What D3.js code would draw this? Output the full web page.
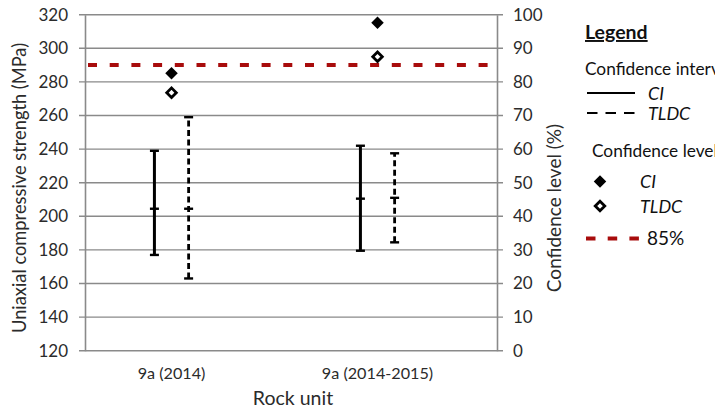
<!DOCTYPE html>
<html>
<head>
<meta charset="utf-8">
<script src="https://cdn.jsdelivr.net/npm/d3@7"></script>
<style>
  html, body { margin: 0; padding: 0; background: #fff; }
  svg { display: block; font-family: Lato, "Open Sans", sans-serif; }
</style>
</head>
<body>
<svg id="chart" width="715" height="411"></svg>
<script>
// values
const categories = ['9a (2014)', '9a (2014-2015)'];
const ciLow = [177, 179.5];
const ciMid = [204.5, 210.5];
const ciHigh = [239, 242];
const tldcLow = [163, 184.5];
const tldcMid = [204.5, 211];
const tldcHigh = [259, 237.5];
const ciLevel = [82.6, 97.6];
const tldcLevel = [76.8, 87.5];
const threshold = 85;
const leftTicks = [120, 140, 160, 180, 200, 220, 240, 260, 280, 300, 320];
const rightTicks = [0, 10, 20, 30, 40, 50, 60, 70, 80, 90, 100];

const svg = d3.select('#chart');
const margin = { top: 14.7, left: 85, right: 497, bottom: 350.7 };
const red = '#a80c0c';
const grid = '#8a8a8a';
const ink = '#2b2b2b';

const x = d3.scaleLinear().domain([-0.42, 1.58]).range([margin.left, margin.right]);
const yL = d3.scaleLinear().domain([120, 320]).range([margin.bottom, margin.top]);
const yR = d3.scaleLinear().domain([0, 100]).range([margin.bottom, margin.top]);
const off = 0.083;

// gridlines
svg.append('g')
	.selectAll('line')
	.data(leftTicks)
	.join('line')
	.attr('x1', margin.left - 6)
	.attr('x2', margin.right + 6)
	.attr('y1', d => yL(d))
	.attr('y2', d => yL(d))
	.attr('stroke', grid)
	.attr('stroke-width', 1.4);

// axes
const axL = d3.axisLeft(yL).tickValues(leftTicks).tickSize(0).tickPadding(17);
const axR = d3.axisRight(yR).tickValues(rightTicks).tickSize(0).tickPadding(16);
[[axL, margin.left], [axR, margin.right]].forEach(([ax, px]) => {
	const g = svg.append('g').attr('transform', `translate(${px},0)`).call(ax);
	g.select('.domain').attr('stroke', grid).attr('stroke-width', 1.6);
	g.selectAll('text').attr('font-size', 17).attr('fill', ink).attr('font-family', 'Lato');
});

// category labels
svg.append('g')
	.selectAll('text')
	.data(categories)
	.join('text')
	.attr('x', (d, i) => x(i))
	.attr('y', 379)
	.attr('text-anchor', 'middle')
	.attr('font-size', 16.2)
	.attr('fill', ink)
	.text(d => d);

// threshold line
svg.append('line')
	.attr('x1', margin.left + 3)
	.attr('x2', margin.right - 4)
	.attr('y1', yR(threshold))
	.attr('y2', yR(threshold))
	.attr('stroke', red)
	.attr('stroke-width', 4)
	.attr('stroke-dasharray', '9 12.7');

// error bars
function errorBars(lo, mid, hi, dx, dash) {
	const g = svg.append('g');
	categories.forEach((c, i) => {
		const cx = x(i + dx);
		g.append('line')
			.attr('x1', cx).attr('x2', cx)
			.attr('y1', yL(lo[i])).attr('y2', yL(hi[i]))
			.attr('stroke', '#000')
			.attr('stroke-width', dash ? 2.8 : 3)
			.attr('stroke-dasharray', dash ? '6 3.5' : null);
		[lo[i], mid[i], hi[i]].forEach(v => {
			g.append('line')
				.attr('x1', cx - 4.5).attr('x2', cx + 4.5)
				.attr('y1', yL(v)).attr('y2', yL(v))
				.attr('stroke', '#000')
				.attr('stroke-width', 2.4);
		});
	});
}
errorBars(ciLow, ciMid, ciHigh, -off, false);
errorBars(tldcLow, tldcMid, tldcHigh, off, true);

// confidence level diamonds
const diamond = d3.symbol().type(d3.symbolDiamond2).size(100);
const hollow = d3.symbol().type(d3.symbolDiamond2).size(58);
svg.append('g')
	.selectAll('path')
	.data(ciLevel)
	.join('path')
	.attr('transform', (d, i) => `translate(${x(i)},${yR(d)})`)
	.attr('d', diamond)
	.attr('fill', '#000');
svg.append('g')
	.selectAll('path')
	.data(tldcLevel)
	.join('path')
	.attr('transform', (d, i) => `translate(${x(i)},${yR(d)})`)
	.attr('d', hollow)
	.attr('fill', '#fff')
	.attr('stroke', '#000')
	.attr('stroke-width', 2.8);

// axis titles
svg.append('text')
	.attr('transform', 'translate(26,188) rotate(-90)')
	.attr('text-anchor', 'middle')
	.attr('font-size', 18.3)
	.attr('fill', ink)
	.text('Uniaxial compressive strength (MPa)');
svg.append('text')
	.attr('transform', 'translate(561,208) rotate(-90)')
	.attr('text-anchor', 'middle')
	.attr('font-size', 19)
	.attr('fill', ink)
	.text('Confidence level (%)');
svg.append('text')
	.attr('x', 293)
	.attr('y', 405)
	.attr('text-anchor', 'middle')
	.attr('font-size', 19.5)
	.attr('fill', ink)
	.text('Rock unit');

// legend
const lg = svg.append('g').attr('fill', '#111');
lg.append('text').attr('x', 585).attr('y', 39).attr('font-size', 19.5).attr('font-weight', 'bold')
	.attr('text-decoration', 'underline').text('Legend');
lg.append('text').attr('x', 585).attr('y', 75).attr('font-size', 17.3).text('Confidence interval');
lg.append('line').attr('x1', 587).attr('x2', 635).attr('y1', 93).attr('y2', 93)
	.attr('stroke', '#000').attr('stroke-width', 2);
lg.append('text').attr('x', 648).attr('y', 100).attr('font-size', 18).attr('font-style', 'italic').text('CI');
lg.append('line').attr('x1', 587).attr('x2', 635).attr('y1', 113).attr('y2', 113)
	.attr('stroke', '#000').attr('stroke-width', 2).attr('stroke-dasharray', '10.5 8');
lg.append('text').attr('x', 648).attr('y', 120).attr('font-size', 18).attr('font-style', 'italic').text('TLDC');
lg.append('text').attr('x', 592).attr('y', 157).attr('font-size', 17.3).text('Confidence level');
lg.append('path').attr('transform', 'translate(600,181.5)').attr('d', diamond).attr('fill', '#000');
lg.append('text').attr('x', 640).attr('y', 188).attr('font-size', 18).attr('font-style', 'italic').text('CI');
lg.append('path').attr('transform', 'translate(600,206)').attr('d', hollow)
	.attr('fill', '#fff').attr('stroke', '#000').attr('stroke-width', 2.8);
lg.append('text').attr('x', 640).attr('y', 213).attr('font-size', 18).attr('font-style', 'italic').text('TLDC');
lg.append('line').attr('x1', 586).attr('x2', 641).attr('y1', 238.5).attr('y2', 238.5)
	.attr('stroke', red).attr('stroke-width', 4).attr('stroke-dasharray', '9.5 12.2');
lg.append('text').attr('x', 647).attr('y', 245).attr('font-size', 19).text('85%');
</script>
</body>
</html>
